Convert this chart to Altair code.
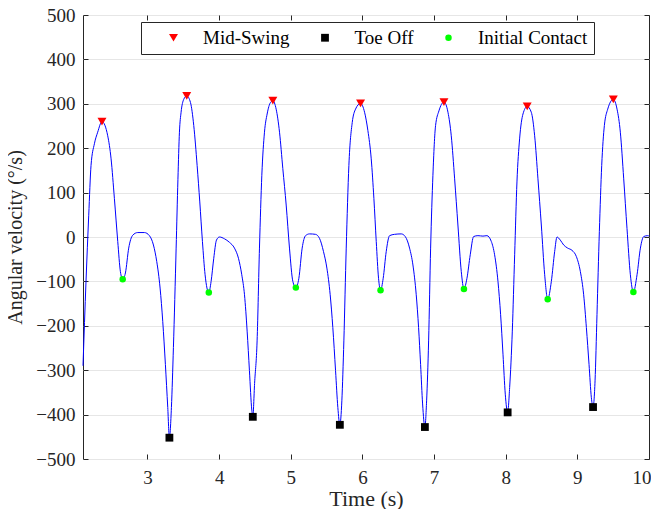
import altair as alt
import pandas as pd

# ---- data ----
time_s = [2.10, 2.142, 2.18, 2.212, 2.259, 2.305, 2.365, 2.445, 2.492, 2.538, 2.585, 2.622, 2.654,
          2.692, 2.738, 2.794, 2.864, 2.957, 3.027, 3.083, 3.129, 3.176, 3.213, 3.25, 3.283, 3.306,
          3.334, 3.362, 3.40, 3.425, 3.446, 3.469, 3.506, 3.548, 3.60, 3.646, 3.693, 3.73, 3.767,
          3.804, 3.856, 3.888, 3.925, 3.963, 4.005, 4.074, 4.144, 4.214, 4.27, 4.316, 4.354, 4.391,
          4.423, 4.456, 4.47, 4.495, 4.53, 4.563, 4.596, 4.633, 4.67, 4.717, 4.75, 4.796, 4.843,
          4.889, 4.936, 4.982, 5.029, 5.071, 5.113, 5.159, 5.206, 5.262, 5.345, 5.401, 5.457, 5.504,
          5.55, 5.587, 5.625, 5.657, 5.685, 5.713, 5.741, 5.774, 5.811, 5.858, 5.904, 5.974, 6.03,
          6.076, 6.123, 6.16, 6.193, 6.225, 6.253, 6.29, 6.332, 6.379, 6.449, 6.542, 6.598, 6.658,
          6.705, 6.751, 6.784, 6.812, 6.84, 6.872, 6.896, 6.924, 6.952, 6.984, 7.021, 7.068, 7.138,
          7.194, 7.24, 7.287, 7.333, 7.38, 7.417, 7.459, 7.505, 7.552, 7.612, 7.682, 7.738, 7.799,
          7.845, 7.892, 7.929, 7.962, 7.994, 8.027, 8.055, 8.092, 8.125, 8.157, 8.194, 8.241, 8.30,
          8.357, 8.404, 8.45, 8.497, 8.544, 8.586, 8.637, 8.683, 8.716, 8.762, 8.809, 8.865, 8.925,
          8.986, 9.042, 9.088, 9.126, 9.163, 9.195, 9.219, 9.247, 9.274, 9.307, 9.34, 9.377, 9.424,
          9.502, 9.554, 9.60, 9.647, 9.693, 9.74, 9.782, 9.833, 9.88, 9.926, 9.982, 10.0]
ang_vel = [-290, -100, 49, 161, 210, 236, 260, 228, 176, 87, -10, -78, -95,
           -81, -25, 4, 10, 10, 3, -18, -55, -115, -190, -287, -384, -452,
           -384, -249, -25, 130, 236, 281, 310, 318, 303, 251, 161, 79, -10,
           -85, -125, -100, -48, -7, 0, -4, -12, -25, -48, -85, -130, -212,
           -301, -390, -405, -330, -234, -25, 139, 236, 277, 303, 307, 288, 236,
           154, 72, -25, -100, -114, -93, -25, 3, 7, 6, -3, -33, -70,
           -130, -204, -301, -384, -423, -369, -234, -25, 161, 258, 288, 301, 281,
           240, 176, 87, -10, -93, -120, -93, -33, 3, 6, 7, 1, -25,
           -63, -130, -204, -287, -376, -428, -369, -234, -25, 139, 251, 284, 304,
           281, 228, 131, 27, -78, -117, -93, -40, 1, 3, 2, 3, -10,
           -40, -100, -175, -264, -354, -395, -339, -212, -40, 124, 221, 277, 294,
           281, 228, 131, 27, -85, -140, -100, -33, 0, -7, -18, -25, -30,
           -44, -78, -130, -204, -287, -361, -383, -324, -175, 12, 161, 251, 288,
           310, 288, 236, 131, 19, -85, -124, -85, -25, 1, 3, 2]

ms_t = [2.365, 3.548, 4.75, 5.974, 7.138, 8.30, 9.502]
ms_v = [260, 318, 307, 301, 304, 294, 310]
to_t = [3.306, 4.47, 5.685, 6.872, 8.027, 9.219]
to_v = [-452, -405, -423, -428, -395, -383]
ic_t = [2.654, 3.856, 5.071, 6.253, 7.417, 8.586, 9.782]
ic_v = [-95, -125, -114, -120, -117, -140, -124]

event_names = ["Mid-Swing", "Toe Off", "Initial Contact"]
event_colors = ["#ff0000", "#000000", "#00ff00"]
event_shapes = ["triangle-down", "square", "circle"]
event_sizes = [80, 42, 60]

x_ticks = [3, 4, 5, 6, 7, 8, 9, 10]
y_ticks = [-500, -400, -300, -200, -100, 0, 100, 200, 300, 400, 500]

line_df = pd.DataFrame({"t": time_s, "v": ang_vel})
ev_df = pd.concat([
    pd.DataFrame({"t": ms_t, "v": ms_v, "event": event_names[0]}),
    pd.DataFrame({"t": to_t, "v": to_v, "event": event_names[1]}),
    pd.DataFrame({"t": ic_t, "v": ic_v, "event": event_names[2]}),
], ignore_index=True)

FONT = "Liberation Serif"
INK = "#262626"

xs = alt.Scale(domain=[2.1, 10], nice=False, zero=False)
ys = alt.Scale(domain=[-500, 500], nice=False, zero=False)

common = dict(labelFont=FONT, titleFont=FONT, labelFontSize=19, labelColor=INK,
              titleColor=INK, tickColor=INK, titleFontWeight="normal",
              offset=-5, tickSize=5, domain=False)

line = alt.Chart(line_df).mark_line(color="#0000ff", strokeWidth=1, interpolate="monotone").encode(
    x=alt.X("t:Q", scale=xs, axis=alt.Axis(
        orient="bottom", values=x_ticks, title="Time (s)", grid=False, labelPadding=9,
        labelFlush=True, labelFlushOffset=2,
        titlePadding=1, titleFontSize=22, format="d", **common)),
    y=alt.Y("v:Q", scale=ys, axis=alt.Axis(
        orient="left", values=y_ticks, title="Angular velocity (°/s)", grid=True,
        gridColor="#e6e6e6", gridWidth=1, labelPadding=8, labelFlush=False,
        titlePadding=10, titleFontSize=20, format="d", **common)),
)

leg = alt.Legend(
    title=None, orient="none", legendX=58, legendY=7, direction="horizontal",
    fillColor="white", strokeColor=INK, padding=6, labelFont=FONT, labelFontSize=19,
    labelColor="#000000", symbolOffset=17, labelOffset=20, columnPadding=8.5,
    symbolStrokeWidth=0, symbolOpacity=1,
)

pts = alt.Chart(ev_df).mark_point(filled=True, opacity=1, strokeWidth=0).encode(
    x=alt.X("t:Q", scale=xs, axis=alt.Axis(
        orient="top", values=x_ticks, title=None, labels=False, grid=False,
        offset=-5, tickSize=5, domain=False, tickColor=INK)),
    y=alt.Y("v:Q", scale=ys, axis=alt.Axis(
        orient="right", values=y_ticks, title=None, labels=False, grid=False,
        offset=-5, tickSize=5, domain=False, tickColor=INK)),
    color=alt.Color("event:N", scale=alt.Scale(domain=event_names, range=event_colors), legend=leg),
    shape=alt.Shape("event:N", scale=alt.Scale(domain=event_names, range=event_shapes), legend=leg),
    size=alt.Size("event:N", scale=alt.Scale(domain=event_names, range=event_sizes), legend=leg),
)

chart = alt.layer(line, pts).resolve_axis(x="independent", y="independent").properties(
    width=566, height=444,
    autosize=alt.AutoSizeParams(type="none"),
    padding={"left": 75, "top": 7, "right": 2, "bottom": 50},
).configure_view(stroke=INK, strokeWidth=1)

chart.save("out.html", embed_options={"renderer": "svg", "actions": False})
